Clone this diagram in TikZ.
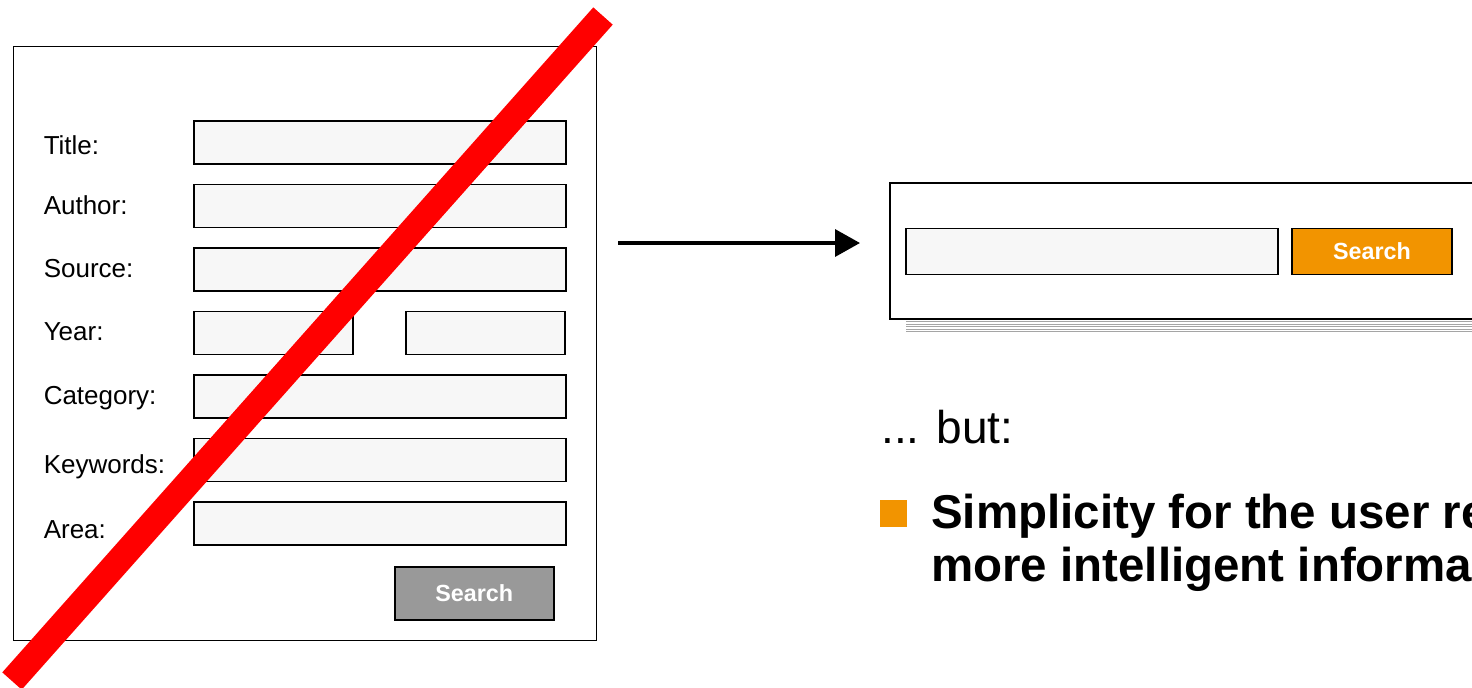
\documentclass[tikz,border=0pt]{standalone}
\usepackage{fontspec}
\setmainfont{Liberation Sans}
\usetikzlibrary{arrows.meta}
\definecolor{fieldfill}{RGB}{247,247,247}
\definecolor{btngray}{RGB}{153,153,153}
\definecolor{btnorange}{RGB}{242,148,0}
\definecolor{shadowgray}{RGB}{165,165,165}
\definecolor{xred}{RGB}{255,0,0}
\begin{document}
\begin{tikzpicture}[x=0.75pt,y=-0.75pt,
  field/.style={draw=black,line width=1.2pt,fill=fieldfill,anchor=north west,inner sep=0pt,minimum height=32.25pt},
  widefield/.style={field,minimum width=279pt},
  halffield/.style={field,minimum width=119.25pt},
  lbl/.style={anchor=base west,inner sep=0pt,font=\fontsize{19.5}{22}\selectfont},
  btntext/.style={text=white,font=\bfseries\fontsize{17.5}{20}\selectfont},
  bigtext/.style={anchor=base west,inner sep=0pt,font=\bfseries\fontsize{35.6}{40}\selectfont},
  shadowline/.style={draw=shadowgray,line width=0.7pt}]
\useasboundingbox (0,0) rectangle (1472,687);
\clip (0,0) rectangle (1472,687);

% ---------- left: detailed search form ----------
\node[draw=black,line width=1.1pt,anchor=north west,inner sep=0pt,
      minimum width=437.25pt,minimum height=445.5pt] (form) at (13,46) {};

\node[widefield] (ftitle) at (193,120) {};
\node[widefield] (fauthor) at (193,183.5) {};
\node[widefield] (fsource) at (193,247) {};
\node[halffield] (fyear1) at (193,310.5) {};
\node[halffield] (fyear2) at (405,310.5) {};
\node[widefield] (fcat) at (193,374) {};
\node[widefield] (fkey) at (193,437.5) {};
\node[widefield] (farea) at (193,501) {};

\node[lbl] (ltitle) at (43.5,154) {Title:};
\node[lbl] (lauthor) at (43.5,214) {Author:};
\node[lbl] (lsource) at (43.5,277) {Source:};
\node[lbl] (lyear) at (43.5,340) {Year:};
\node[lbl] (lcat) at (43.5,404) {Category:};
\node[lbl] (lkey) at (43.5,473) {Keywords:};
\node[lbl] (larea) at (43.5,538) {Area:};

\node[draw=black,line width=1.2pt,fill=btngray,anchor=north west,inner sep=0pt,
      minimum width=119.25pt,minimum height=39.75pt] (gbtn) at (394,566) {};
\node[btntext] (gbtntext) at (gbtn.center) {Search};

% cross-out stroke
\coordinate (r1) at (603,16);
\coordinate (r2) at (12,681);
\draw[xred,line width=19.5pt] (r1) -- (r2);

% ---------- arrow ----------
\coordinate (a1) at (618,243);
\coordinate (a2) at (860,243);
\draw[line width=2.6pt,-{Triangle[length=18.75pt,width=20.25pt]}] (a1) -- (a2);

% ---------- right: simple search box ----------
\draw[shadowline] (889,319.5) -- (1480,319.5);
\foreach \yy in {321.8,324.2,326.7,329.1,331.5}
  \draw[shadowline] (906,\yy) -- (1480,\yy);
\node[draw=black,fill=white,line width=1.6pt,anchor=north west,inner sep=0pt,
      minimum width=443.25pt,minimum height=102pt] (sbox) at (889,182) {};
\node[field,minimum width=279pt,minimum height=34.5pt] (sfield) at (905,227.5) {};
\node[draw=black,line width=1.4pt,fill=btnorange,anchor=north west,inner sep=0pt,
      minimum width=120pt,minimum height=34.5pt] (obtn) at (1291,227.5) {};
\node[btntext] (obtntext) at (obtn.center) {Search};

% ---------- text ----------
\node[anchor=base west,inner sep=0pt,font=\fontsize{34.5}{40}\selectfont] (but) at (881,443) {... but:};
\node[fill=btnorange,anchor=north west,inner sep=0pt,minimum size=20pt] (bullet) at (880,500) {};
\node[bigtext] (line1) at (931,528) {Simplicity for the user re};
\node[bigtext] (line2) at (931,581) {more intelligent informa};
\end{tikzpicture}
\end{document}
